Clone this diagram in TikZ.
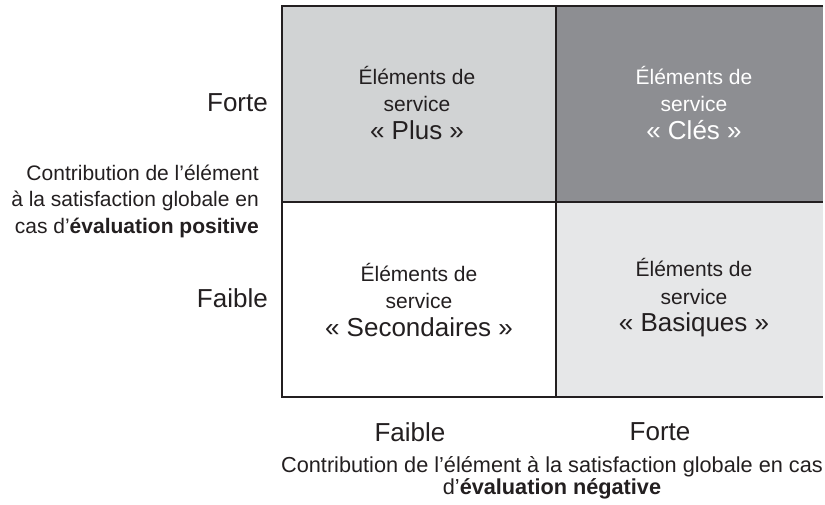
\documentclass[tikz,border=0pt]{standalone}
\usepackage{fontspec}
\setmainfont{Liberation Sans}
\definecolor{ink}{HTML}{231F20}
\definecolor{plusgray}{HTML}{D1D3D4}
\definecolor{clesgray}{HTML}{8D8E92}
\definecolor{basgray}{HTML}{E6E7E8}
\newcommand{\smallf}{\fontsize{21}{27.5}\selectfont}
\newcommand{\bigf}{\fontsize{26}{27.5}\selectfont}
\tikzset{
  gridline/.style={draw=ink, line width=2.6pt},
  celltext/.style={text=ink, align=center, inner sep=0pt, font=\smallf},
  bigtext/.style={text=ink, inner sep=0pt, font=\bigf},
  sidetext/.style={text=ink, inner sep=0pt, font=\fontsize{21}{26.5}\selectfont},
  bottomtext/.style={text=ink, inner sep=0pt, font=\fontsize{21.7}{22.5}\selectfont}
}
\begin{document}
\begin{tikzpicture}[x=1pt,y=-1pt]
\useasboundingbox (0,0) rectangle (825,505);
\fill[white] (0,0) rectangle (825,505);
% grid corners
\coordinate (tl) at (282,6);
\coordinate (tm) at (556,6);
\coordinate (tr) at (823,6);
\coordinate (ml) at (282,202);
\coordinate (mm) at (556,202);
\coordinate (mr) at (823,202);
\coordinate (bl) at (282,397);
\coordinate (bm) at (556,397);
\coordinate (br) at (823,397);
% cell fills
\fill[plusgray] (tl) rectangle (mm);
\fill[clesgray] (tm) rectangle (mr);
\fill[basgray] (mm) rectangle (br);
% grid lines
\draw[gridline] (tr) -- (tl) -- (bl) -- (br);
\draw[gridline] (tm) -- (bm);
\draw[gridline] (ml) -- (mr);
% cell texts
\node[celltext] (plus) at (417,103) {Éléments de\\service\\{\bigf « Plus »}};
\node[celltext, text=white] (cles) at (694,103) {Éléments de\\service\\{\bigf « Clés »}};
\node[celltext] (second) at (419,300) {Éléments de\\service\\{\bigf « Secondaires »}};
\node[celltext] (basiq) at (694,298) {Éléments de\\service\\{\bigf « Basiques »}};
% left axis
\node[bigtext, anchor=east] (lforte) at (268,103) {Forte};
\node[bigtext, anchor=east] (lfaible) at (268,298) {Faible};
\node[sidetext, anchor=east, align=right] (lcontrib) at (259,201) {Contribution de l’élément\\à la satisfaction globale en\\cas d’\textbf{évaluation positive}};
% bottom axis
\node[bigtext] (bfaible) at (410,432) {Faible};
\node[bigtext] (bforte) at (660,432) {Forte};
\node[bottomtext, align=center] (bcontrib) at (552,478) {Contribution de l’élément à la satisfaction globale en cas\\d’\textbf{évaluation négative}};
\end{tikzpicture}
\end{document}
